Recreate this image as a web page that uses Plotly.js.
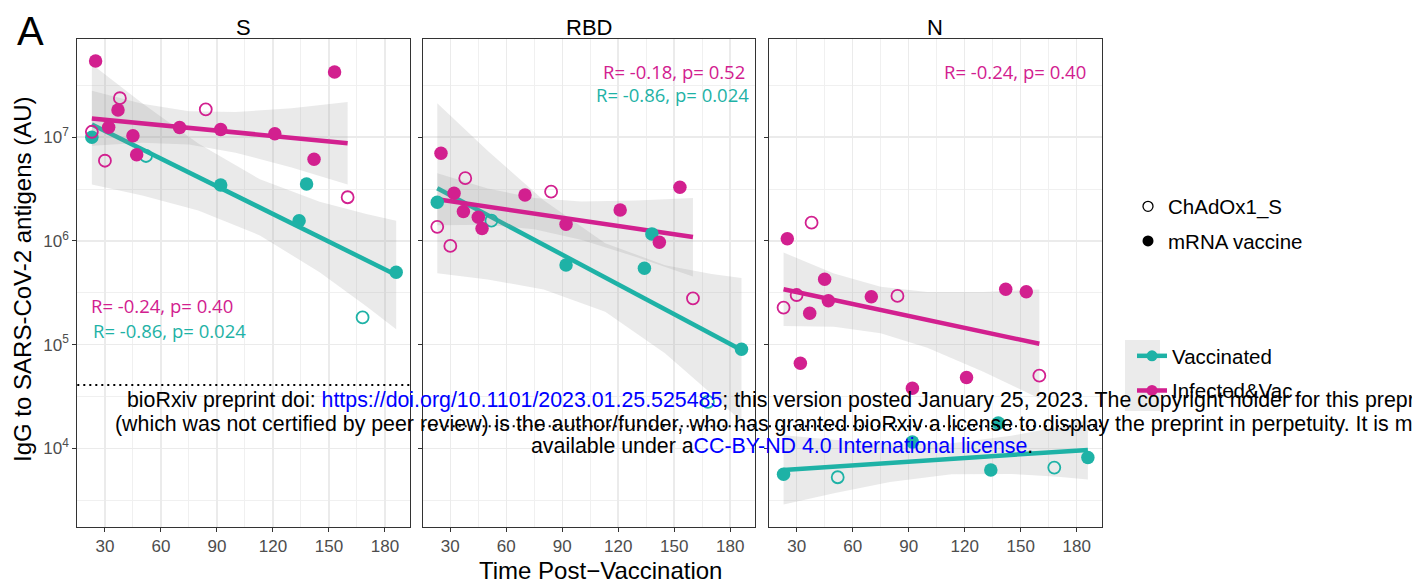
<!DOCTYPE html>
<html><head><meta charset="utf-8">
<script src="https://cdn.plot.ly/plotly-3.0.1.min.js"></script>
<style>html,body{margin:0;padding:0;background:#fff;} #chart{width:1412px;height:585px;}</style>
</head><body><div id="chart"></div>
<script>
// ---------------- data ----------------
const panelNames = ['S', 'RBD', 'N'];

// days post vaccination per subject group
const daysMrnaInf = [25, 32, 37, 45, 47, 70, 92, 121, 142, 153];
const daysChadInf = [23, 30, 38, 84, 160];
const daysMrnaVac = [23, 92, 134, 138, 186];
const daysChadVac = [52, 168];

// S antigen IgG (AU)
const S_mrnaInf = [5.45e7, 1.25e7, 1.83e7, 1.035e7, 6.79e6, 1.24e7, 1.19e7, 1.08e7, 6.14e6, 4.27e7];
const S_chadInf = [1.13e7, 5.94e6, 2.38e7, 1.86e7, 2.64e6];
const S_mrnaVac = [1.0e7, 3.47e6, 1.57e6, 3.55e6, 4.99e5];
const S_chadVac = [6.6e6, 1.83e5];
// RBD antigen IgG (AU)
const RBD_mrnaInf = [7.0e6, 2.88e6, 1.92e6, 1.69e6, 1.32e6, 2.78e6, 1.45e6, 1.99e6, 9.7e5, 3.3e6];
const RBD_chadInf = [1.37e6, 8.95e5, 4.03e6, 2.99e6, 2.8e5];
const RBD_mrnaVac = [2.36e6, 5.87e5, 5.46e5, 1.17e6, 9.04e4];
const RBD_chadVac = [1.57e6, 2.8e4];
// N antigen IgG (AU)
const N_mrnaInf = [1.05e6, 6.62e4, 2.01e5, 4.28e5, 2.65e5, 2.9e5, 3.8e4, 4.81e4, 3.42e5, 3.24e5];
const N_chadInf = [2.28e5, 3.01e5, 1.5e6, 2.95e5, 5.02e4];
const N_mrnaVac = [5.62e3, 1.15e4, 6.19e3, 1.75e4, 8.15e3];
const N_chadVac = [5.26e3, 6.52e3];

// fitted regression lines (end points)
const fitDaysInf = [23, 160];
const fitDaysVac = [23, 186];
const S_fitInf = [1.52e7, 8.75e6];
const S_fitVac = [1.33e7, 4.70e5];
const RBD_fitInf = [2.52e6, 1.09e6];
const RBD_fitVac = [3.22e6, 8.9e4];
const N_fitInf = [3.42e5, 1.02e5];
const N_fitVac = [6.19e3, 9.66e3];

// confidence bands
const bandDaysInf = [23, 50, 75, 100, 130, 160];
const bandDaysVac = [23, 50, 80, 113, 145, 170, 186];
const S_bandInfHi = [2.81e7, 2.10e7, 1.78e7, 1.75e7, 1.91e7, 2.19e7];
const S_bandInfLo = [8.28e6, 8.87e6, 8.54e6, 7.11e6, 5.11e6, 3.50e6];
const S_bandVacHi = [5.07e7, 2.13e7, 8.71e6, 3.93e6, 2.39e6, 1.82e6, 1.57e6];
const S_bandVacLo = [3.51e6, 2.75e6, 1.97e6, 1.13e6, 4.99e5, 2.34e5, 1.41e5];
const RBD_bandInfHi = [4.49e6, 3.21e6, 2.59e6, 2.40e6, 2.45e6, 2.60e6];
const RBD_bandInfLo = [1.42e6, 1.43e6, 1.30e6, 1.03e6, 6.97e5, 4.54e5];
const RBD_bandVacHi = [2.13e7, 7.43e6, 2.47e6, 9.51e5, 5.84e5, 4.81e5, 4.40e5];
const RBD_bandVacLo = [4.88e5, 4.26e5, 3.41e5, 2.08e5, 8.27e4, 3.34e4, 1.81e4];
const N_bandInfHi = [7.73e5, 4.86e5, 3.61e5, 3.21e5, 3.21e5, 3.41e5];
const N_bandInfLo = [1.51e5, 1.49e5, 1.29e5, 9.33e4, 5.48e4, 3.03e4];
const N_bandVacHi = [1.34e4, 1.21e4, 1.11e4, 1.12e4, 1.32e4, 1.61e4, 1.86e4];
const N_bandVacLo = [2.87e3, 3.69e3, 4.72e3, 5.61e3, 5.66e3, 5.31e3, 5.01e3];

// positivity cut-offs (dotted lines)
const cutoffs = [4.08e4, 1.63e4, 1.63e4];

// correlation labels
const statsInf = ['R= -0.24, p= 0.40', 'R= -0.18, p= 0.52', 'R= -0.24, p= 0.40'];
const statsVac = ['R= -0.86, p= 0.024', 'R= -0.86, p= 0.024'];

// tick labels
const xTickVals = [30, 60, 90, 120, 150, 180];
const xTickText = ['30', '60', '90', '120', '150', '180'];
const xMinorVals = [45, 75, 105, 135, 165];
const yTickVals = [1e4, 1e5, 1e6, 1e7];
const yTickText = ['10<sup>4</sup>', '10<sup>5</sup>', '10<sup>6</sup>', '10<sup>7</sup>'];
const yMinorVals = [3162.3, 31622.8, 316227.8, 3162277.7, 31622776.6];

const legendShapes = ['ChAdOx1_S', 'mRNA vaccine'];
const legendGroups = ['Vaccinated', 'Infected&Vac'];

// ---------------- styling ----------------
const W = 1412, H = 585;
const FONT = 'Liberation Sans, Arial, sans-serif';
const colVac = '#1EB2A6';
const colInf = '#D2208F';
const bandFill = 'rgba(150,150,150,0.2)';
const PX = v => v / W, PY = v => 1 - v / H;
const panelPx = [[77.3, 410], [422.7, 755.3], [769, 1101.7]];
const yPx = [39.3, 526.7];

const byPanel = {
  S: {mi: S_mrnaInf, ci: S_chadInf, mv: S_mrnaVac, cv: S_chadVac, fi: S_fitInf, fv: S_fitVac,
      bih: S_bandInfHi, bil: S_bandInfLo, bvh: S_bandVacHi, bvl: S_bandVacLo},
  RBD: {mi: RBD_mrnaInf, ci: RBD_chadInf, mv: RBD_mrnaVac, cv: RBD_chadVac, fi: RBD_fitInf, fv: RBD_fitVac,
      bih: RBD_bandInfHi, bil: RBD_bandInfLo, bvh: RBD_bandVacHi, bvl: RBD_bandVacLo},
  N: {mi: N_mrnaInf, ci: N_chadInf, mv: N_mrnaVac, cv: N_chadVac, fi: N_fitInf, fv: N_fitVac,
      bih: N_bandInfHi, bil: N_bandInfLo, bvh: N_bandVacHi, bvl: N_bandVacLo}
};

const traces = [];
function poly(xs, hi, lo) {
  return {x: xs.concat(xs.slice().reverse()), y: hi.concat(lo.slice().reverse())};
}
panelNames.forEach((p, i) => {
  const d = byPanel[p];
  const xa = i ? 'x' + (i + 1) : 'x', ya = i ? 'y' + (i + 1) : 'y';
  const base = {xaxis: xa, yaxis: ya, showlegend: false, hoverinfo: 'skip', type: 'scatter'};
  const bv = poly(bandDaysVac, d.bvh, d.bvl);
  traces.push(Object.assign({}, base, {x: bv.x, y: bv.y, mode: 'lines', fill: 'toself', fillcolor: bandFill, line: {width: 0}}));
  traces.push(Object.assign({}, base, {x: fitDaysVac, y: d.fv, mode: 'lines', line: {color: colVac, width: 4.5}}));
  const bi = poly(bandDaysInf, d.bih, d.bil);
  traces.push(Object.assign({}, base, {x: bi.x, y: bi.y, mode: 'lines', fill: 'toself', fillcolor: bandFill, line: {width: 0}}));
  traces.push(Object.assign({}, base, {x: fitDaysInf, y: d.fi, mode: 'lines', line: {color: colInf, width: 4.5}}));
  traces.push(Object.assign({}, base, {x: daysChadVac, y: d.cv, mode: 'markers', marker: {symbol: 'circle-open', size: 12, color: colVac, line: {width: 1.8}}}));
  traces.push(Object.assign({}, base, {x: daysMrnaVac, y: d.mv, mode: 'markers', marker: {symbol: 'circle', size: 13.5, color: colVac}}));
  traces.push(Object.assign({}, base, {x: daysChadInf, y: d.ci, mode: 'markers', marker: {symbol: 'circle-open', size: 12, color: colInf, line: {width: 1.8}}}));
  traces.push(Object.assign({}, base, {x: daysMrnaInf, y: d.mi, mode: 'markers', marker: {symbol: 'circle', size: 13.5, color: colInf}}));
});

// legend entries
traces.push({x: [null], y: [null], type: 'scatter', mode: 'markers', name: legendShapes[0], legend: 'legend', legendgroup: 'g1',
  marker: {symbol: 'circle-open', size: 10, color: '#000', line: {width: 1.3}}, hoverinfo: 'skip'});
traces.push({x: [null], y: [null], type: 'scatter', mode: 'markers', name: legendShapes[1], legend: 'legend', legendgroup: 'g2',
  marker: {symbol: 'circle', size: 11, color: '#000'}, hoverinfo: 'skip'});
traces.push({x: [null], y: [null], type: 'scatter', mode: 'lines+markers', name: legendGroups[0], legend: 'legend2', legendgroup: 'g3',
  line: {color: colVac, width: 4.5}, marker: {symbol: 'circle', size: 11, color: colVac}, hoverinfo: 'skip'});
traces.push({x: [null], y: [null], type: 'scatter', mode: 'lines+markers', name: legendGroups[1], legend: 'legend2', legendgroup: 'g4',
  line: {color: colInf, width: 4.5}, marker: {symbol: 'circle', size: 11, color: colInf}, hoverinfo: 'skip'});

const layout = {
  width: W, height: H,
  margin: {l: 0, r: 0, t: 0, b: 0},
  paper_bgcolor: '#fff', plot_bgcolor: '#fff',
  font: {family: FONT, color: '#000'},
  showlegend: true,
  legend: {x: PX(1128), y: PY(186.5), xanchor: 'left', yanchor: 'top', bgcolor: 'rgba(0,0,0,0)',
    font: {family: FONT, size: 20.5, color: '#000'}, traceorder: 'grouped', tracegroupgap: 5},
  legend2: {x: PX(1132), y: PY(336), xanchor: 'left', yanchor: 'top', bgcolor: 'rgba(0,0,0,0)',
    font: {family: FONT, size: 20.5, color: '#000'}, traceorder: 'grouped', tracegroupgap: 5},
  annotations: [], shapes: []
};

panelNames.forEach((p, i) => {
  const xk = i ? 'xaxis' + (i + 1) : 'xaxis', yk = i ? 'yaxis' + (i + 1) : 'yaxis';
  const xa = i ? 'x' + (i + 1) : 'x', ya = i ? 'y' + (i + 1) : 'y';
  layout[xk] = {
    domain: [PX(panelPx[i][0]), PX(panelPx[i][1])], anchor: ya, range: [15.2, 193.4],
    tickmode: 'array', tickvals: xTickVals, ticktext: xTickText,
    ticks: 'outside', ticklen: 4, tickwidth: 1, tickcolor: '#333',
    tickfont: {family: FONT, size: 17, color: '#4D4D4D'},
    showgrid: true, gridcolor: '#EBEBEB', gridwidth: 1.6,
    minor: {tickmode: 'array', tickvals: xMinorVals, showgrid: true, gridcolor: '#F0F0F0', gridwidth: 1, ticks: ''},
    showline: true, mirror: true, linecolor: '#333', linewidth: 1, zeroline: false, fixedrange: true
  };
  layout[yk] = {
    domain: [PY(yPx[1]), PY(yPx[0])], anchor: xa, type: 'log', range: [3.244, 7.945],
    tickmode: 'array', tickvals: yTickVals, ticktext: yTickText, showticklabels: i === 0,
    ticks: 'outside', ticklen: 4, tickwidth: 1, tickcolor: '#333',
    tickfont: {family: FONT, size: 17, color: '#4D4D4D'},
    showgrid: true, gridcolor: '#EBEBEB', gridwidth: 1.6,
    minor: {tickmode: 'array', tickvals: yMinorVals, showgrid: true, gridcolor: '#F0F0F0', gridwidth: 1, ticks: ''},
    showline: true, mirror: true, linecolor: '#333', linewidth: 1, zeroline: false, fixedrange: true
  };
  // panel title
  layout.annotations.push({text: p, xref: 'paper', yref: 'paper', x: PX((panelPx[i][0] + panelPx[i][1]) / 2), y: PY(27),
    xanchor: 'center', yanchor: 'middle', showarrow: false, font: {family: FONT, size: 22, color: '#000'}});
  // cutoff dotted line
  layout.shapes.push({type: 'line', xref: xa + ' domain', yref: ya, x0: 0, x1: 1, y0: cutoffs[i], y1: cutoffs[i],
    line: {color: '#000', width: 2, dash: '2px,4px'}, layer: 'above'});
});

// correlation annotations
const statFont = (c) => ({family: 'Open Sans, sans-serif', size: 18.5, color: c});
layout.annotations.push({text: statsInf[0], xref: 'paper', yref: 'paper', x: PX(89), y: PY(305), xanchor: 'left', yanchor: 'middle', showarrow: false, font: statFont(colInf)});
layout.annotations.push({text: statsVac[0], xref: 'paper', yref: 'paper', x: PX(90.5), y: PY(330), xanchor: 'left', yanchor: 'middle', showarrow: false, font: statFont(colVac)});
layout.annotations.push({text: statsInf[1], xref: 'paper', yref: 'paper', x: PX(747), y: PY(71), xanchor: 'right', yanchor: 'middle', showarrow: false, font: statFont(colInf)});
layout.annotations.push({text: statsVac[1], xref: 'paper', yref: 'paper', x: PX(751), y: PY(95), xanchor: 'right', yanchor: 'middle', showarrow: false, font: statFont(colVac)});
layout.annotations.push({text: statsInf[2], xref: 'paper', yref: 'paper', x: PX(1088), y: PY(71), xanchor: 'right', yanchor: 'middle', showarrow: false, font: statFont(colInf)});

// panel letter and axis titles
layout.annotations.push({text: 'A', xref: 'paper', yref: 'paper', x: PX(30), y: PY(31), xanchor: 'center', yanchor: 'middle', showarrow: false, font: {family: FONT, size: 40, color: '#000'}});
layout.annotations.push({text: 'Time Post\u2212Vaccination', xref: 'paper', yref: 'paper', x: PX(600), y: PY(570), xanchor: 'center', yanchor: 'middle', showarrow: false, font: {family: FONT, size: 24, color: '#000'}});
layout.annotations.push({text: 'IgG to SARS-CoV-2 antigens (AU)', xref: 'paper', yref: 'paper', x: PX(22), y: PY(280), xanchor: 'center', yanchor: 'middle', textangle: -90, showarrow: false, font: {family: FONT, size: 24, color: '#000'}});

// watermark lines
const wm = [
  'bioRxiv preprint doi: <span style="color:#0000FF">https://doi.org/10.1101/2023.01.25.525485</span>; this version posted January 25, 2023. The copyright holder for this preprint',
  '(which was not certified by peer review) is the author/funder, who has granted bioRxiv a license to display the preprint in perpetuity. It is made',
  'available under a<span style="color:#0000FF">CC-BY-ND 4.0 International license</span>.'
];
const wmY = [400, 423.5, 446];
wm.forEach((t, k) => layout.annotations.push({text: t, xref: 'paper', yref: 'paper', x: PX(781.5), y: PY(wmY[k]), xanchor: 'center', yanchor: 'middle', showarrow: false, font: {family: FONT, size: 21.35, color: '#000'}}));

// gray key background for fitted-line legend
layout.shapes.push({type: 'rect', xref: 'paper', yref: 'paper', x0: PX(1125), x1: PX(1160), y0: PY(411), y1: PY(340), fillcolor: '#EBEBEB', line: {width: 0}, layer: 'below'});

Plotly.newPlot('chart', traces, layout, {staticPlot: true, displayModeBar: false});
</script></body></html>
